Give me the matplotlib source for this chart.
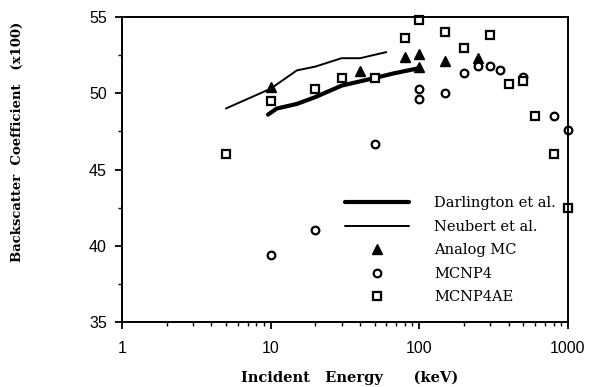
import matplotlib
matplotlib.use("Agg")
import matplotlib.pyplot as plt
from matplotlib.ticker import FixedLocator, NullFormatter

# Data
darl_E = [9.6, 11, 15, 20, 30, 50, 67, 100]
darl_y = [48.6, 49.0, 49.3, 49.75, 50.5, 51.0, 51.3, 51.65]

neub_E = [5, 10, 15, 20, 30, 40, 60]
neub_y = [49.0, 50.3, 51.5, 51.75, 52.3, 52.3, 52.7]

analog_E = [10, 40, 80, 100, 100, 150, 250]
analog_y = [50.4, 51.45, 52.35, 52.55, 51.7, 52.1, 52.3]

mcnp4_E = [10, 20, 50, 100, 100, 150, 200, 250, 300, 350, 500, 800, 1000]
mcnp4_y = [39.4, 41.05, 46.7, 49.65, 50.25, 50.0, 51.3, 51.8, 51.8, 51.5, 51.05, 48.5, 47.6]

mcnp4ae_E = [5, 10, 20, 30, 50, 80, 100, 150, 200, 300, 400, 500, 600, 800, 1000]
mcnp4ae_y = [46.0, 49.5, 50.3, 51.0, 51.0, 53.6, 54.8, 54.0, 52.95, 53.8, 50.6, 50.8, 48.5, 46.0, 42.5]

xticks = [1, 10, 100, 1000]
xticklabels = ["1", "10", "100", "1000"]
yticks = [35, 40, 45, 50, 55]

fig = plt.figure(figsize=(5.91, 3.87), dpi=100)
ax = fig.add_axes([0.2064, 0.168, 0.7546, 0.788])

ax.plot(darl_E, darl_y, color="black", lw=3.0, solid_capstyle="round", label="Darlington et al.")
ax.plot(neub_E, neub_y, color="black", lw=1.4, solid_capstyle="round", label="Neubert et al.")
ax.plot(analog_E, analog_y, linestyle="none", marker="^", ms=6.5, color="black", label="Analog MC")
ax.plot(mcnp4_E, mcnp4_y, linestyle="none", marker="o", ms=5.5, mfc="white", mec="black", mew=1.6,
        label="MCNP4", clip_on=False)
ax.plot(mcnp4ae_E, mcnp4ae_y, linestyle="none", marker="s", ms=5.5, mfc="white", mec="black", mew=1.6,
        label="MCNP4AE", clip_on=False)

ax.set_xscale("log")
ax.set_xlim(1, 1000)
ax.set_ylim(35, 55)
ax.set_xticks(xticks)
ax.set_xticklabels(xticklabels)
ax.xaxis.set_minor_formatter(NullFormatter())
ax.set_yticks(yticks)
ax.yaxis.set_minor_locator(FixedLocator([37.5, 42.5, 47.5, 52.5]))

for lab in ax.get_xticklabels() + ax.get_yticklabels():
    lab.set_fontfamily("Liberation Sans")
    lab.set_fontsize(11.5)

ax.tick_params(axis="x", which="major", direction="out", length=5, width=1.3, pad=9)
ax.tick_params(axis="y", which="major", direction="out", length=5, width=1.3, pad=6)
ax.tick_params(axis="both", which="minor", direction="out", length=3, width=1.0)
for s in ax.spines.values():
    s.set_linewidth(1.4)

ax.set_xlabel("Incident   Energy      (keV)", fontfamily="DejaVu Serif", fontweight="bold",
              fontsize=10.5, va="center")
ax.xaxis.set_label_coords(0.511, -0.184)
ax.set_ylabel("Backscatter  Coefficient   (x100)", fontfamily="DejaVu Serif", fontweight="bold",
              fontsize=9.5, va="center")
ax.yaxis.set_label_coords(-0.235, 0.59)

leg = ax.legend(loc="upper left", bbox_to_anchor=(0.5, 0.412), frameon=False,
                prop={"family": "DejaVu Serif", "size": 10.5},
                handlelength=4.4, handletextpad=1.7, labelspacing=0.65,
                borderaxespad=0.0, borderpad=0.0)

fig.savefig("out.png", dpi=100)
